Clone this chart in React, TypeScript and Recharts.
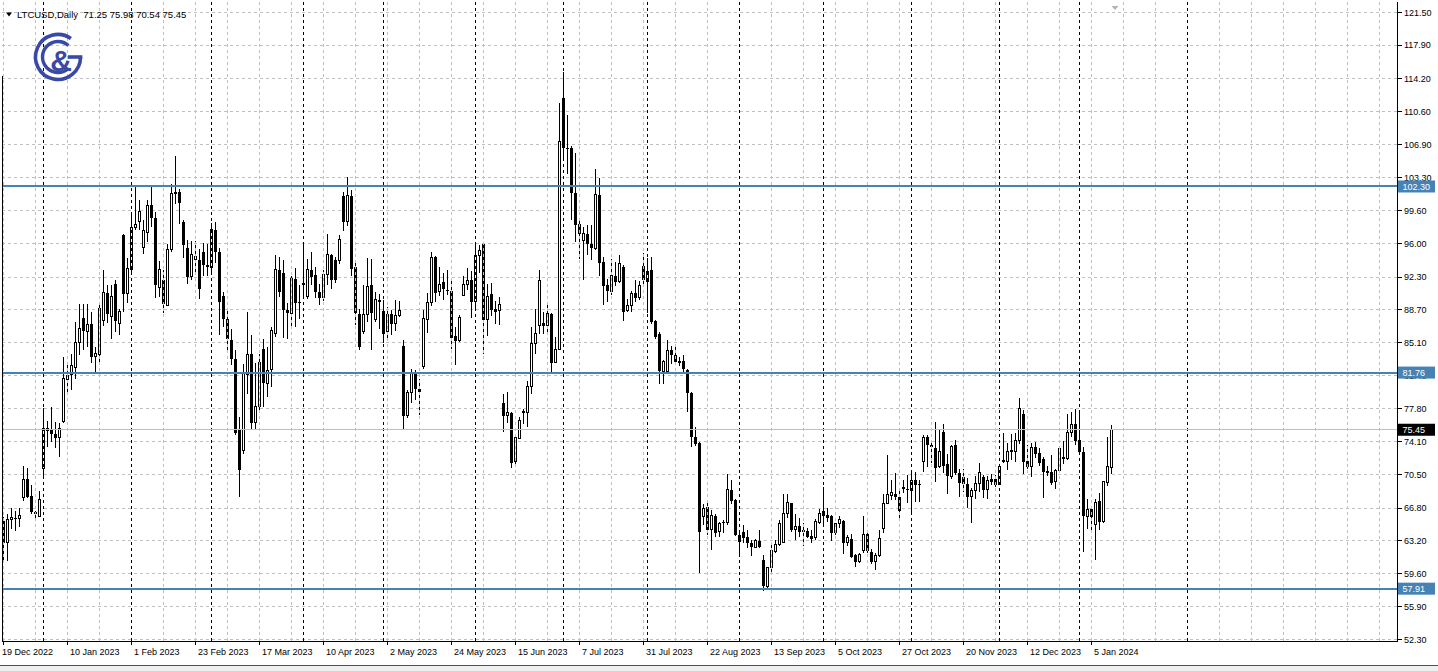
import React from "react";
import { ComposedChart, Bar, XAxis, YAxis, CartesianGrid, ReferenceLine } from "recharts";

const opens = [
  65.4,63.0,65.5,65.7,65.6,68.0,70.0,68.1,66.4,65.9,
  71.2,75.6,75.5,75.0,74.6,76.4,81.0,81.5,82.3,85.1,
  87.8,86.3,87.1,83.5,83.8,87.5,90.5,88.0,91.5,87.2,
  96.9,90.5,93.1,97.8,98.4,95.6,97.2,100.3,98.8,91.2,
  92.0,89.2,95.3,101.5,101.7,98.4,95.5,92.4,94.2,94.2,
  95.1,93.6,93.4,97.5,95.1,90.2,87.7,85.4,83.3,75.5,
  73.2,81.6,83.8,76.2,78.0,84.4,80.6,82.1,86.1,93.1,
  92.8,88.7,88.3,92.1,89.6,91.6,90.2,93.1,92.5,90.7,
  90.1,92.6,94.7,94.2,94.1,101.3,98.4,101.3,93.4,88.2,
  86.25,88.2,91.4,87.6,89.8,88.6,86.25,88.2,87.2,88.1,
  84.7,77.0,79.55,81.8,80.0,82.4,87.6,89.45,94.5,90.66,
  91.77,90.9,90.8,85.8,85.25,90.3,91.5,92.03,89.56,94.7,
  95.9,87.6,90.4,88.8,88.6,78.4,77.0,77.3,71.9,74.5,
  77.5,77.4,80.26,85.0,87.0,87.2,87.0,88.25,82.9,84.3,
  112.1,106.6,106.6,101.6,98.2,96.37,97.1,96.0,95.5,101.4,
  93.97,91.48,90.74,92.4,91.8,93.4,88.6,89.2,90.5,90.0,
  93.5,91.8,93.06,87.5,86.07,81.9,81.9,84.23,83.75,83.0,
  83.0,82.02,79.56,74.6,74.0,65.9,66.93,64.43,65.9,64.17,
  65.3,65.16,68.85,67.67,63.8,64.17,63.6,63.0,62.5,63.2,
  61.1,58.18,60.24,61.96,62.78,63.0,66.2,67.37,64.43,64.8,
  64.36,64.3,63.7,63.6,65.2,66.5,66.0,65.9,64.06,65.1,
  65.4,62.96,63.44,61.6,60.86,62.07,63.9,62.0,60.9,61.6,
  64.55,67.3,68.2,68.33,68.0,69.1,68.9,68.75,69.88,69.5,
  71.9,74.7,73.8,73.45,71.42,75.2,71.64,70.3,73.8,70.63,
  70.18,69.5,68.03,68.77,69.5,70.18,68.85,70.0,70.06,69.44,
  71.9,72.0,73.1,73.1,74.3,77.2,72.0,71.42,73.6,72.9,
  72.27,70.9,70.8,69.7,70.98,72.45,72.27,75.1,76.06,74.3,
  73.0,65.9,66.7,64.98,67.6,65.28,69.6,71.25,
];

const highs = [
  65.8,66.2,66.8,66.5,66.8,71.5,71.2,69.4,66.5,68.7,
  77.8,76.4,78.0,76.3,76.2,83.5,82.8,83.8,87.35,89.3,
  89.3,89.3,88.4,84.6,89.4,93.05,91.4,91.4,91.95,88.8,
  97.1,94.35,99.3,102.44,100.8,98.65,100.86,102.33,99.5,94.08,
  93.1,96.0,102.6,105.64,102.07,98.65,96.37,96.29,96.3,95.45,
  96.07,95.93,98.28,98.4,95.56,90.66,88.64,86.62,84.23,76.86,
  82.76,88.45,85.88,82.8,83.86,85.5,84.6,86.8,94.7,94.5,
  94.16,89.4,92.4,93.35,91.4,95.9,94.24,95.08,93.4,91.5,
  93.06,97.0,94.9,94.5,96.9,101.7,103.35,101.96,93.97,88.83,
  91.4,94.46,94.24,90.66,90.48,89.82,89.0,88.7,89.74,89.67,
  85.3,79.8,82.1,82.0,81.1,88.64,90.55,95.08,94.6,93.4,
  92.76,93.13,91.88,86.8,88.09,92.4,93.35,92.98,95.93,95.8,
  96.07,91.59,91.6,89.67,90.1,79.45,79.62,77.4,74.84,76.86,
  77.79,80.84,86.8,88.83,93.06,88.5,89.38,88.3,85.7,111.46,
  114.94,110.16,106.8,105.94,98.7,97.84,98.0,98.0,104.28,103.18,
  94.52,92.14,94.27,93.97,94.7,93.6,89.93,90.74,91.95,91.84,
  95.0,94.35,94.52,87.6,86.25,83.2,85.33,84.7,84.6,83.5,
  83.67,82.1,79.6,75.7,74.1,67.3,67.37,66.57,66.1,65.3,
  65.5,70.6,69.88,67.8,64.36,64.98,64.43,63.33,63.4,64.43,
  61.6,60.3,62.96,63.3,65.46,68.33,68.33,67.4,66.2,65.7,
  65.2,64.6,64.4,65.65,66.75,69.14,66.86,66.0,65.2,65.9,
  65.5,63.8,63.9,61.79,61.8,65.98,64.0,62.3,61.9,64.43,
  68.33,72.63,69.88,70.68,68.85,69.88,70.43,70.8,70.8,69.9,
  74.84,74.9,74.2,76.3,75.4,76.06,72.8,73.8,74.37,71.17,
  71.1,70.07,69.07,70.32,71.79,70.43,70.3,70.6,70.4,71.5,
  75.1,74.0,75.03,75.1,78.9,77.68,73.74,74.0,74.1,73.4,
  72.45,71.5,72.63,71.1,73.6,74.2,77.24,77.42,77.79,77.42,
  73.55,67.8,66.8,67.85,68.48,69.7,74.66,75.98,
];

const lows = [
  61.0,61.0,64.5,64.3,64.7,67.6,67.9,66.2,65.5,65.8,
  70.1,73.55,74.1,73.4,72.4,76.2,79.5,79.8,81.1,83.7,
  84.2,84.6,82.8,81.7,82.9,86.9,87.2,85.5,86.25,85.9,
  88.45,89.4,92.7,97.5,97.5,94.8,96.2,97.84,90.04,90.1,
  88.3,89.1,95.08,100.4,98.2,94.46,91.59,91.95,92.6,89.93,
  92.4,92.4,92.87,93.86,85.88,86.8,83.93,82.57,74.84,68.03,
  72.75,79.45,75.4,75.47,77.6,78.0,79.07,80.2,85.7,90.1,
  85.6,85.5,86.6,86.8,87.7,90.1,89.9,91.4,90.04,89.2,
  89.7,91.4,91.0,91.66,93.7,97.4,97.9,92.4,87.0,84.3,
  86.07,87.35,84.23,87.35,86.62,85.03,85.33,85.88,86.36,87.93,
  75.4,76.7,78.4,78.7,77.05,82.1,86.14,89.08,89.56,90.19,
  89.82,90.3,84.41,82.57,85.1,90.19,90.85,87.83,88.93,92.7,
  83.86,85.77,87.98,87.1,87.0,75.2,76.2,71.28,71.72,74.5,
  76.06,75.7,79.45,83.86,86.07,86.0,86.25,81.83,82.9,84.3,
  105.4,103.7,98.6,96.18,94.27,91.95,94.7,94.16,95.3,92.43,
  89.27,89.5,90.3,91.3,91.6,87.4,88.45,88.45,89.56,89.8,
  91.2,88.28,87.17,85.5,80.55,80.55,81.65,82.76,82.6,82.5,
  81.83,77.42,73.55,73.63,59.69,64.9,63.8,62.23,63.6,63.6,
  64.0,64.9,67.3,63.7,61.6,62.9,62.35,61.5,62.35,62.35,
  57.66,57.9,59.66,61.9,62.67,62.9,65.7,64.17,63.25,63.6,
  62.67,63.5,62.96,63.25,65.1,65.0,65.28,63.18,63.8,64.66,
  61.72,62.6,61.24,60.3,60.7,61.9,61.8,60.6,59.96,61.42,
  64.06,67.2,67.67,67.67,65.76,68.48,67.37,66.38,67.48,67.5,
  70.8,71.35,71.79,69.7,71.2,70.68,68.4,70.0,70.5,68.03,
  68.59,66.86,65.17,67.85,68.59,67.96,67.85,69.3,69.1,69.3,
  71.8,71.06,72.16,71.9,73.9,70.6,71.1,70.18,72.3,71.4,
  67.96,70.3,69.3,68.96,70.8,71.64,72.1,74.66,73.74,72.8,
  62.0,64.55,64.0,61.1,64.36,65.2,69.2,70.54,
];

const closes = [
  63.0,65.5,65.8,65.6,66.0,70.0,68.0,66.4,66.1,67.8,
  75.6,75.3,75.0,74.5,75.6,81.1,81.4,82.5,85.1,86.6,
  86.3,87.1,83.5,83.9,88.8,90.6,88.2,90.2,87.4,88.5,
  90.4,93.2,97.8,98.1,99.5,97.4,100.2,98.8,91.4,93.1,
  89.3,95.3,101.5,101.6,100.5,95.8,92.3,94.8,94.6,91.0,
  93.6,93.4,97.5,95.1,89.6,87.7,85.5,83.3,75.1,71.0,
  81.7,83.8,76.2,78.0,82.9,80.6,82.0,86.4,93.1,90.66,
  88.7,88.3,92.1,89.45,89.4,91.4,93.1,92.3,90.66,90.0,
  92.6,94.8,92.0,92.0,96.4,98.4,101.3,93.24,88.3,84.6,
  88.2,91.28,88.3,89.8,89.56,86.07,88.2,87.1,88.1,88.6,
  77.0,79.55,81.8,80.0,79.6,87.7,89.45,94.5,90.55,91.5,
  90.93,90.8,85.6,85.25,87.84,91.5,91.95,89.56,94.7,95.2,
  87.6,90.2,88.7,88.45,89.3,76.98,77.4,71.8,74.6,76.5,
  77.3,80.26,85.0,86.07,91.9,86.9,88.25,82.8,84.33,107.3,
  106.6,106.5,101.6,98.1,97.1,97.1,95.9,95.5,101.4,93.9,
  91.3,90.74,92.43,91.8,93.8,88.5,89.2,90.5,90.0,91.4,
  91.95,92.95,87.35,85.7,81.9,82.93,84.23,83.75,82.93,82.87,
  82.1,79.56,74.66,73.93,64.2,66.75,64.43,66.0,64.06,65.1,
  65.16,68.85,67.6,63.8,63.07,63.55,62.9,62.5,63.2,62.5,
  58.2,60.24,62.07,62.8,65.14,66.2,67.37,64.43,64.8,64.17,
  64.17,63.6,63.37,65.3,66.2,65.9,65.76,64.06,65.1,65.54,
  62.96,63.55,61.42,60.86,61.7,63.9,62.07,60.9,61.6,63.44,
  67.3,68.33,68.47,68.0,66.47,68.9,68.75,69.88,69.33,69.3,
  74.6,73.8,73.5,71.28,73.1,71.4,70.3,73.6,70.65,69.58,
  69.44,68.03,68.77,69.5,70.68,68.85,69.8,69.7,69.3,71.42,
  72.1,73.09,73.2,74.3,77.8,71.9,71.35,73.45,72.8,71.8,
  70.8,70.7,69.6,70.98,73.4,72.27,75.1,76.06,74.2,73.0,
  65.9,66.7,65.8,67.37,65.28,69.7,71.35,75.45,
];

const dateLabels = [
  "19 Dec 2022", "10 Jan 2023", "1 Feb 2023", "23 Feb 2023", "17 Mar 2023", "10 Apr 2023",
  "2 May 2023", "24 May 2023", "15 Jun 2023", "7 Jul 2023", "31 Jul 2023", "22 Aug 2023",
  "13 Sep 2023", "5 Oct 2023", "27 Oct 2023", "20 Nov 2023", "12 Dec 2023", "5 Jan 2024",
];
const labelIndexes = [0, 16, 32, 48, 64, 80, 96, 112, 128, 144, 160, 176, 192, 208, 224, 240, 256, 272];
const monthSeparators = [10, 32, 52, 75, 95, 118, 140, 161, 184, 205, 227, 249, 269, 296];
const gridIndexes = [
  0, 8, 16, 24, 32, 40, 48, 56, 64, 72, 80, 88, 96, 104, 112, 120, 128, 136, 144, 152, 160, 168,
  176, 184, 192, 200, 208, 216, 224, 232, 240, 248, 256, 264, 272, 280, 288, 296, 304, 312, 320,
  328, 336, 344,
];
const priceTicks = [
  121.5, 117.9, 114.2, 110.6, 106.9, 103.3, 99.6, 96.0, 92.3, 88.7,
  85.1, 81.4, 77.8, 74.1, 70.5, 66.8, 63.2, 59.6, 55.9, 52.3,
];
const levels = [102.3, 81.76, 57.91];
const lastPrice = 75.45;
const totalSlots = 349;
const headerText = "LTCUSD,Daily  71.25 75.98 70.54 75.45";

const FONT = '"Liberation Sans", Arial, sans-serif';
const BLUE = "#4682B4";

const tagColour = (v: number) => (v === lastPrice ? "#000" : levels.includes(v) ? BLUE : null);
const axisTicks = [...priceTicks, lastPrice, ...levels];

const data = Array.from({ length: totalSlots }, (_, i) => ({
  i,
  o: opens[i],
  h: highs[i],
  l: lows[i],
  c: closes[i],
}));

const Candle = (props: any) => {
  const { x, y, width, height, payload } = props;
  if (!payload || payload.h == null || !Number.isFinite(y) || !Number.isFinite(height)) return null;
  const { o, h, l, c } = payload;
  const k = h > l ? height / (h - l) : 0;
  const py = (v: number) => y + (h - v) * k;
  const cx = Math.round(x + width / 2 - 0.5) + 0.5;
  const top = py(Math.max(o, c));
  const bot = py(Math.min(o, c));
  const bull = c >= o;
  return (
    <g shapeRendering="crispEdges">
      <line x1={cx} x2={cx} y1={y} y2={y + height} stroke="#000" strokeWidth={1} />
      {bull ? (
        <rect x={cx - 1} y={top} width={2} height={Math.max(bot - top, 0.5)} fill="#fff" stroke="#000" strokeWidth={1} />
      ) : (
        <rect x={cx - 1.5} y={top} width={3} height={Math.max(bot - top, 1)} fill="#000" />
      )}
    </g>
  );
};

const DateTick = (props: any) => {
  const { x, y, payload } = props;
  const k = labelIndexes.indexOf(payload.value);
  if (k < 0) return null;
  return (
    <text x={x + (k === 0 ? -1.5 : 2.5)} y={y + 8} fontSize={9} fontFamily={FONT} fill="#000">
      {dateLabels[k]}
    </text>
  );
};

const PriceTick = (props: any) => {
  const { x, y, payload } = props;
  const v = payload.value as number;
  const bg = tagColour(v);
  if (bg) {
    return (
      <g>
        <rect x={x - 6} y={y - 6} width={37} height={12} fill={bg} />
        <text x={x - 1.5} y={y + 3.3} fontSize={9} fontFamily={FONT} fill="#fff">
          {v.toFixed(2)}
        </text>
      </g>
    );
  }
  return (
    <text x={x} y={y + 3.3} fontSize={9} fontFamily={FONT} fill="#000">
      {v.toFixed(2)}
    </text>
  );
};

const Logo = () => {
  const cx = 28;
  const cy = 28;
  const ro = 22.5;
  const ri = 15.5;
  const p = (r: number, a: number) => [cx + r * Math.cos((a * Math.PI) / 180), cy + r * Math.sin((a * Math.PI) / 180)];
  const [ox1, oy1] = p(ro, -55);
  const [ox2, oy2] = p(ro, 0);
  const [ix1, iy1] = p(ri, -48);
  const [ix2, iy2] = p(ri, 48);
  const col = "#3949a6";
  return (
    <g transform="translate(30,29)">
      <path d={`M ${ox1} ${oy1} A ${ro} ${ro} 0 1 0 ${ox2} ${oy2}`} fill="none" stroke={col} strokeWidth={3.6} />
      <line x1={ox2 + 1.8} y1={oy2} x2={38} y2={oy2} stroke={col} strokeWidth={3.6} />
      <path d={`M ${ix1} ${iy1} A ${ri} ${ri} 0 1 0 ${ix2} ${iy2}`} fill="none" stroke={col} strokeWidth={3.4} />
      <text x={31} y={42} textAnchor="middle" fontSize={30} fontWeight="bold" fontFamily={FONT} fill={col}>
        &amp;
      </text>
    </g>
  );
};

export default function App() {
  return (
    <div style={{ position: "absolute", left: 0, top: 0, width: 1438, height: 671, background: "#fff", overflow: "hidden" }}>
      <ComposedChart
        width={1438}
        height={665}
        data={data}
        margin={{ top: 2, right: 0, bottom: 0, left: 1.5 }}
        barCategoryGap="10%"
      >
        <CartesianGrid
          vertical={false}
          horizontalValues={priceTicks}
          stroke="#c0c0c0"
          strokeDasharray="3 3"
          shapeRendering="crispEdges"
        />
        <XAxis
          dataKey="i"
          type="category"
          ticks={labelIndexes}
          interval={0}
          height={24}
          tickSize={4}
          tickLine={{ stroke: "#000", shapeRendering: "crispEdges" }}
          axisLine={{ stroke: "#000", shapeRendering: "crispEdges" }}
          tick={<DateTick />}
        />
        <YAxis
          orientation="right"
          type="number"
          domain={[52.134, 122.659]}
          allowDataOverflow
          ticks={axisTicks}
          interval={0}
          width={40.5}
          tickSize={4}
          tickMargin={2.5}
          tick={<PriceTick />}
          tickLine={{ stroke: "#000", shapeRendering: "crispEdges" }}
          axisLine={{ stroke: "#000", shapeRendering: "crispEdges" }}
        />
        {gridIndexes.map((g) => (
          <ReferenceLine key={"g" + g} x={g} stroke="#c0c0c0" strokeDasharray="3 3" shapeRendering="crispEdges" />
        ))}
        {monthSeparators.map((m) => (
          <ReferenceLine key={"m" + m} x={m} stroke="#000" strokeDasharray="3 3" shapeRendering="crispEdges" />
        ))}
        <Bar
          dataKey={(d: any) => (d.h == null ? null : [d.l, d.h])}
          shape={<Candle />}
          isAnimationActive={false}
        />
        <ReferenceLine y={lastPrice} stroke="#c0c0c0" strokeWidth={1} shapeRendering="crispEdges" />
        {levels.map((lv) => (
          <ReferenceLine key={"lv" + lv} y={lv} stroke={BLUE} strokeWidth={2} shapeRendering="crispEdges" />
        ))}
      </ComposedChart>
      <svg
        width={1438}
        height={671}
        style={{ position: "absolute", left: 0, top: 0, pointerEvents: "none" }}
      >
        <line x1={2.5} x2={2.5} y1={76} y2={641} stroke="#000" strokeWidth={1} shapeRendering="crispEdges" />
        <polygon points="6,12.5 12,12.5 9,16.5" fill="#000" />
        <text x={17} y={18} fontSize={9.5} fontFamily={FONT} fill="#000" style={{ whiteSpace: "pre" }}>
          {headerText}
        </text>
        <polygon points="1111.5,6 1118.5,6 1115,10" fill="#b4b4b4" />
        <Logo />
        <rect x={0} y={665} width={1438} height={1} fill="#505050" />
        <rect x={0} y={666} width={1438} height={5} fill="#f0f0f0" />
      </svg>
    </div>
  );
}
